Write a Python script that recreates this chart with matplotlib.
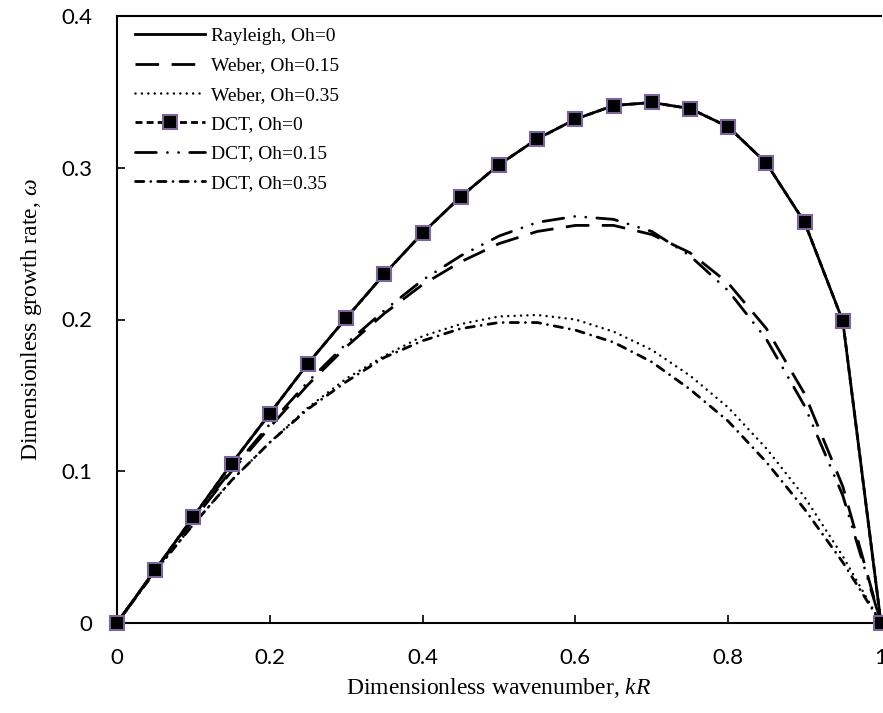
import matplotlib
matplotlib.use("Agg")
import matplotlib.pyplot as plt

# Données (taux de croissance adimensionnel)
kR = [0, 0.05, 0.1, 0.15, 0.2, 0.25, 0.3, 0.35, 0.4, 0.45, 0.5,
      0.55, 0.6, 0.65, 0.7, 0.75, 0.8, 0.85, 0.9, 0.95, 1.0]

rayleigh_oh0 = [0, 0.035, 0.070, 0.105, 0.138, 0.171, 0.201, 0.230, 0.257, 0.281, 0.302,
                0.319, 0.332, 0.341, 0.343, 0.339, 0.327, 0.303, 0.264, 0.199, 0]
weber_oh015 = [0, 0.035, 0.068, 0.100, 0.129, 0.157, 0.182, 0.204, 0.223, 0.238, 0.250,
               0.258, 0.262, 0.262, 0.256, 0.244, 0.224, 0.194, 0.151, 0.090, 0]
weber_oh035 = [0, 0.034, 0.065, 0.094, 0.119, 0.142, 0.161, 0.176, 0.189, 0.197, 0.202,
               0.203, 0.200, 0.192, 0.180, 0.163, 0.142, 0.115, 0.083, 0.044, 0]
dct_oh0 = [0, 0.035, 0.070, 0.105, 0.138, 0.171, 0.201, 0.230, 0.257, 0.281, 0.302,
           0.319, 0.332, 0.341, 0.343, 0.339, 0.327, 0.303, 0.264, 0.199, 0]
dct_oh015 = [0, 0.035, 0.069, 0.101, 0.131, 0.159, 0.184, 0.206, 0.226, 0.242, 0.255,
             0.264, 0.268, 0.266, 0.258, 0.242, 0.219, 0.187, 0.143, 0.084, 0]
dct_oh035 = [0, 0.034, 0.065, 0.094, 0.119, 0.141, 0.159, 0.175, 0.186, 0.194, 0.198,
             0.198, 0.193, 0.185, 0.172, 0.154, 0.133, 0.106, 0.075, 0.040, 0]

xticks = [0, 0.2, 0.4, 0.6, 0.8, 1]
xticklabels = ["0", "0.2", "0.4", "0.6", "0.8", "1"]
yticks = [0, 0.1, 0.2, 0.3, 0.4]
yticklabels = ["0", "0.1", "0.2", "0.3", "0.4"]

plt.rcParams["lines.scale_dashes"] = False
plt.rcParams["mathtext.fontset"] = "custom"
plt.rcParams["mathtext.it"] = "Liberation Serif:italic"
plt.rcParams["mathtext.rm"] = "Liberation Serif"
SERIF = ["Liberation Serif", "DejaVu Serif"]
SANS = ["Lato", "DejaVu Sans"]

fig = plt.figure(figsize=(8.83, 7.13), dpi=100)
ax = fig.add_axes([117 / 883, 1 - 623 / 713, (881 - 117) / 883, (623 - 16) / 713])

ax.plot(kR, rayleigh_oh0, color="black", lw=2.0, label="Rayleigh, Oh=0")
ax.plot(kR, weber_oh015, color="black", lw=2.0, dashes=(17, 9), label="Weber, Oh=0.15")
ax.plot(kR, weber_oh035, color="black", lw=1.8, dashes=(0.01, 4.6),
        dash_capstyle="round", label="Weber, Oh=0.35")
ax.plot(kR, dct_oh0, color="black", lw=2.0, dashes=(5, 3), marker="s", markersize=10,
        markerfacecolor="black", markeredgecolor="#7B659E", markeredgewidth=1.5,
        label="DCT, Oh=0", clip_on=False, zorder=5)
ax.plot(kR, dct_oh015, color="black", lw=2.0, dashes=(15, 8, 0.01, 8, 0.01, 8),
        dash_capstyle="round", label="DCT, Oh=0.15")
ax.plot(kR, dct_oh035, color="black", lw=2.0, dashes=(6, 5, 0.01, 5),
        dash_capstyle="round", label="DCT, Oh=0.35")

ax.set_xlim(0, 1)
ax.set_ylim(0, 0.4)
ax.set_xticks(xticks)
ax.set_xticklabels(xticklabels)
ax.set_yticks(yticks)
ax.set_yticklabels(yticklabels)
ax.tick_params(direction="in", length=6, width=1.2, labelsize=16)
ax.tick_params(axis="x", pad=18)
ax.tick_params(axis="y", pad=18)
for lab in ax.get_xticklabels() + ax.get_yticklabels():
    lab.set_family(SANS)

for side in ["left", "bottom", "top"]:
    ax.spines[side].set_linewidth(1.5)
ax.spines["right"].set_visible(False)

ax.set_xlabel("Dimensionless wavenumber, $\\mathit{kR}$", family=SERIF, fontsize=17, labelpad=6)
ax.set_ylabel("Dimensionless growth rate, $\\mathit{\\omega}$", family=SERIF, fontsize=17, labelpad=12)

ax.legend(loc="upper left", bbox_to_anchor=(0.008, 1), frameon=False, borderaxespad=0.2,
          handlelength=3.6, handletextpad=0.3, labelspacing=0.6,
          prop={"family": SERIF, "size": 14})

fig.savefig("out.png", dpi=100)
